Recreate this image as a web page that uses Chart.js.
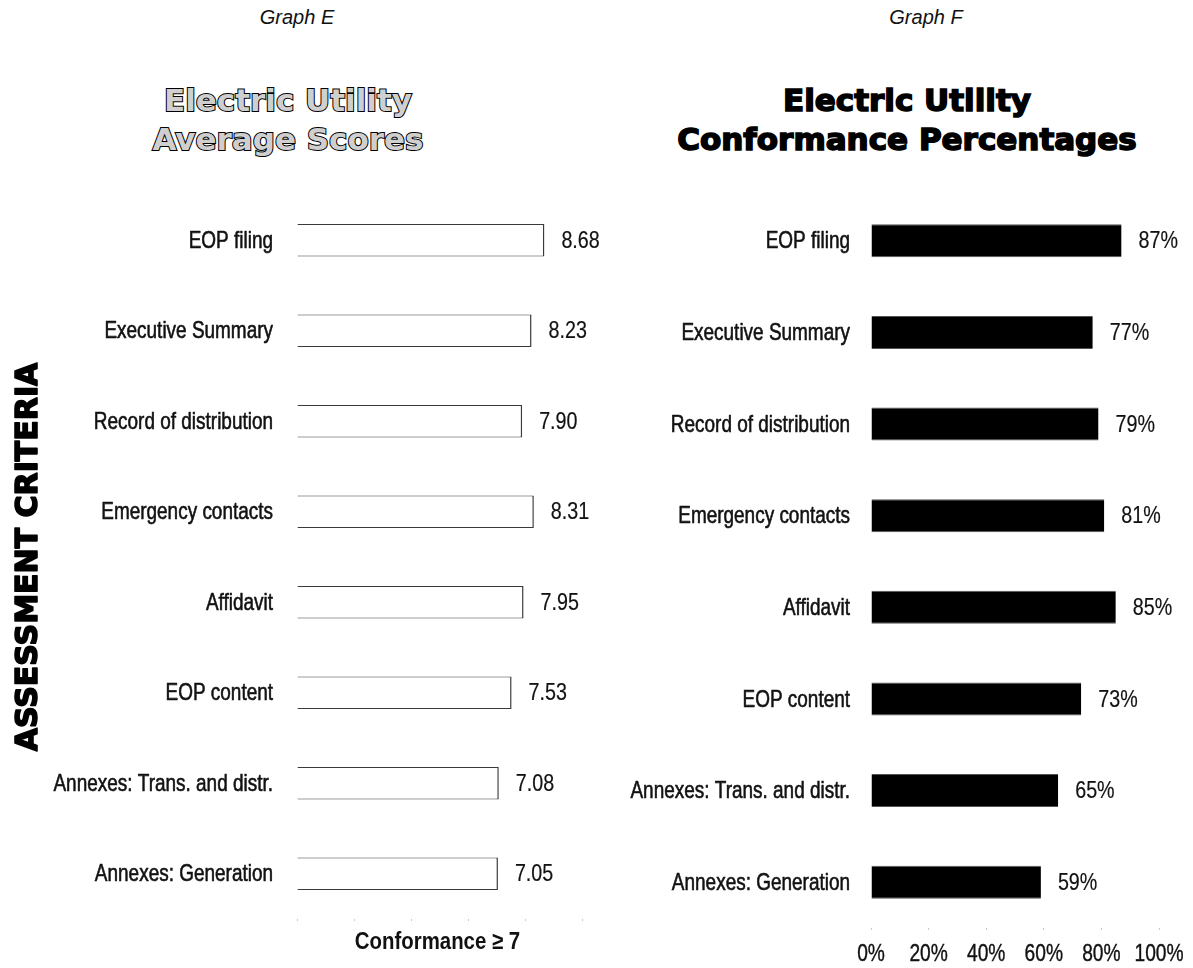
<!DOCTYPE html>
<html>
<head>
<meta charset="utf-8">
<title>Electric Utility Assessment</title>
<script src="https://cdn.jsdelivr.net/npm/chart.js@4.4.1/dist/chart.umd.min.js"></script>
<style>
  html, body { margin: 0; padding: 0; background: #fff; }
  #page { position: relative; width: 1193px; height: 968px; overflow: hidden; background: #fff; }
  .graph-tag { position: absolute; top: 6px; width: 300px; text-align: center;
    font: italic 20px 'Liberation Sans', Arial, sans-serif; color: #111; }
  .heading { position: absolute; top: 81px; width: 560px; text-align: center;
    font: bold 31px/39px 'DejaVu Sans', sans-serif; }
  .heading.hollow { color: #cfcfcf; -webkit-text-stroke: 2px #000; paint-order: stroke fill; }
  .heading.solid { color: #000; -webkit-text-stroke: 1.6px #000; }
  canvas { position: absolute; top: 0; }
</style>
</head>
<body>
<div id="page">
  <div class="graph-tag" style="left:147px">Graph E</div>
  <div class="graph-tag" style="left:776px">Graph F</div>
  <div class="heading hollow" style="left:8px">Electric Utility<br>Average Scores</div>
  <div class="heading solid" style="left:627px">Electric Utility<br>Conformance Percentages</div>
  <canvas id="scores" width="640" height="968" style="left:0"></canvas>
  <canvas id="conformance" width="593" height="968" style="left:600px"></canvas>
</div>
<script>
// Assessment criteria (top to bottom)
const criteria = [
  'EOP filing',
  'Executive Summary',
  'Record of distribution',
  'Emergency contacts',
  'Affidavit',
  'EOP content',
  'Annexes: Trans. and distr.',
  'Annexes: Generation'
];
// Average score per criterion (0-10 scale)
const averageScores = [8.68, 8.23, 7.90, 8.31, 7.95, 7.53, 7.08, 7.05];
// Share of plans in conformance, percent
const conformancePct = [87, 77, 79, 81, 85, 73, 65, 59];
// Percent axis tick labels
const pctTicks = ['0%', '20%', '40%', '60%', '80%', '100%'];
// Axis captions
const scoreAxisCaption = 'Conformance \u2265 7';
const criteriaCaption = 'ASSESSMENT CRITERIA';

const SANS = "'Liberation Sans', Arial, sans-serif";

// Text in a condensed face: a regular sans squeezed horizontally
function narrowText(ctx, text, x, y, opts) {
  ctx.save();
  ctx.font = (opts.weight || 'normal') + ' ' + opts.size + 'px ' + SANS;
  ctx.fillStyle = opts.color || '#111';
  ctx.textAlign = opts.align || 'left';
  ctx.textBaseline = 'middle';
  ctx.translate(x, y);
  ctx.scale(opts.squeeze || 0.8, 1);
  if (opts.stroke) {
    ctx.strokeStyle = opts.color || '#111';
    ctx.lineWidth = opts.stroke;
    ctx.lineJoin = 'round';
    ctx.strokeText(text, 0, 0);
  }
  ctx.fillText(text, 0, 0);
  ctx.restore();
}

// Category names to the left of the bars, placed on the category scale
function categoryLabels(gap) {
  return {
    id: 'categoryLabels',
    afterDraw(chart) {
      const y = chart.scales.y;
      const x0 = chart.chartArea.left - gap;
      chart.data.labels.forEach((name, i) => {
        narrowText(chart.ctx, name, x0, y.getPixelForTick(i) + 1,
          { size: 24, align: 'right', squeeze: 0.79, stroke: 0.6 });
      });
    }
  };
}

// Each bar's value just past its end
function valueLabels(format) {
  return {
    id: 'valueLabels',
    afterDatasetsDraw(chart) {
      const meta = chart.getDatasetMeta(0);
      const data = chart.data.datasets[0].data;
      meta.data.forEach((bar, i) => {
        narrowText(chart.ctx, format(data[i]), bar.x + 17, bar.y + 1,
          { size: 24, squeeze: 0.82, stroke: 0.2 });
      });
    }
  };
}

// Percent labels under the value axis
const pctAxisLabels = {
  id: 'pctAxisLabels',
  afterDraw(chart) {
    const x = chart.scales.x;
    x.ticks.forEach((t, i) => {
      narrowText(chart.ctx, pctTicks[i], x.getPixelForValue(t.value), 954,
        { size: 24, align: 'center', squeeze: 0.8, stroke: 0.4 });
    });
  }
};

// Caption under the score axis and the vertical criteria caption
const scoreCaptions = {
  id: 'scoreCaptions',
  afterDraw(chart) {
    const a = chart.chartArea;
    const ctx = chart.ctx;
    narrowText(ctx, scoreAxisCaption, (a.left + a.right) / 2 - 2, 942,
      { size: 24, weight: 'bold', align: 'center', squeeze: 0.85 });
    ctx.save();
    ctx.translate(29, (a.top + a.bottom) / 2);
    ctx.rotate(-Math.PI / 2);
    ctx.font = "bold 30px 'DejaVu Sans', sans-serif";
    ctx.textAlign = 'center';
    ctx.textBaseline = 'middle';
    ctx.fillStyle = '#000';
    ctx.strokeStyle = '#000';
    ctx.lineWidth = 1.6;
    ctx.lineJoin = 'round';
    ctx.strokeText(criteriaCaption, 0, 0);
    ctx.fillText(criteriaCaption, 0, 0);
    ctx.restore();
  }
};

function fixSize(w, h) {
  return function (scale) {
    if (w !== null) scale.width = w;
    if (h !== null) scale.height = h;
  };
}

// Graph E: average scores, hollow bars
new Chart(document.getElementById('scores'), {
  type: 'bar',
  data: {
    labels: criteria,
    datasets: [{
      data: averageScores,
      backgroundColor: '#ffffff',
      borderColor: '#3a3a3a',
      borderWidth: { top: 1, bottom: 1, right: 1.5, left: 0 },
      borderSkipped: false,
      categoryPercentage: 1,
      barPercentage: 0.36
    }]
  },
  options: {
    indexAxis: 'y',
    responsive: false,
    animation: false,
    events: [],
    layout: { padding: { top: 195, right: 58, left: 0, bottom: 0 } },
    plugins: { legend: { display: false }, tooltip: { enabled: false } },
    scales: {
      x: {
        min: 0, max: 10,
        ticks: { display: false, stepSize: 2 },
        grid: { drawOnChartArea: false, drawTicks: true, tickLength: 2, color: '#c8c8c8' },
        border: { display: false },
        afterFit: fixSize(null, 49)
      },
      y: {
        ticks: { display: false },
        grid: { display: false },
        border: { display: false },
        afterFit: fixSize(297, null)
      }
    }
  },
  plugins: [categoryLabels(24), valueLabels(v => v.toFixed(2)), scoreCaptions]
});

// Graph F: conformance percentages, solid bars
new Chart(document.getElementById('conformance'), {
  type: 'bar',
  data: {
    labels: criteria,
    datasets: [{
      data: conformancePct,
      backgroundColor: '#000000',
      borderColor: '#555555',
      borderWidth: { top: 1, bottom: 1, right: 0, left: 0 },
      borderSkipped: false,
      categoryPercentage: 1,
      barPercentage: 0.36
    }]
  },
  options: {
    indexAxis: 'y',
    responsive: false,
    animation: false,
    events: [],
    layout: { padding: { top: 195, right: 34, left: 0, bottom: 0 } },
    plugins: { legend: { display: false }, tooltip: { enabled: false } },
    scales: {
      x: {
        min: 0, max: 100,
        ticks: { display: false, stepSize: 20 },
        grid: { drawOnChartArea: false, drawTicks: true, tickLength: 2, color: '#c8c8c8' },
        border: { display: false },
        afterFit: fixSize(null, 40)
      },
      y: {
        ticks: { display: false },
        grid: { display: false },
        border: { display: false },
        afterFit: fixSize(271, null)
      }
    }
  },
  plugins: [categoryLabels(21), valueLabels(v => v + '%'), pctAxisLabels]
});
</script>
</body>
</html>
